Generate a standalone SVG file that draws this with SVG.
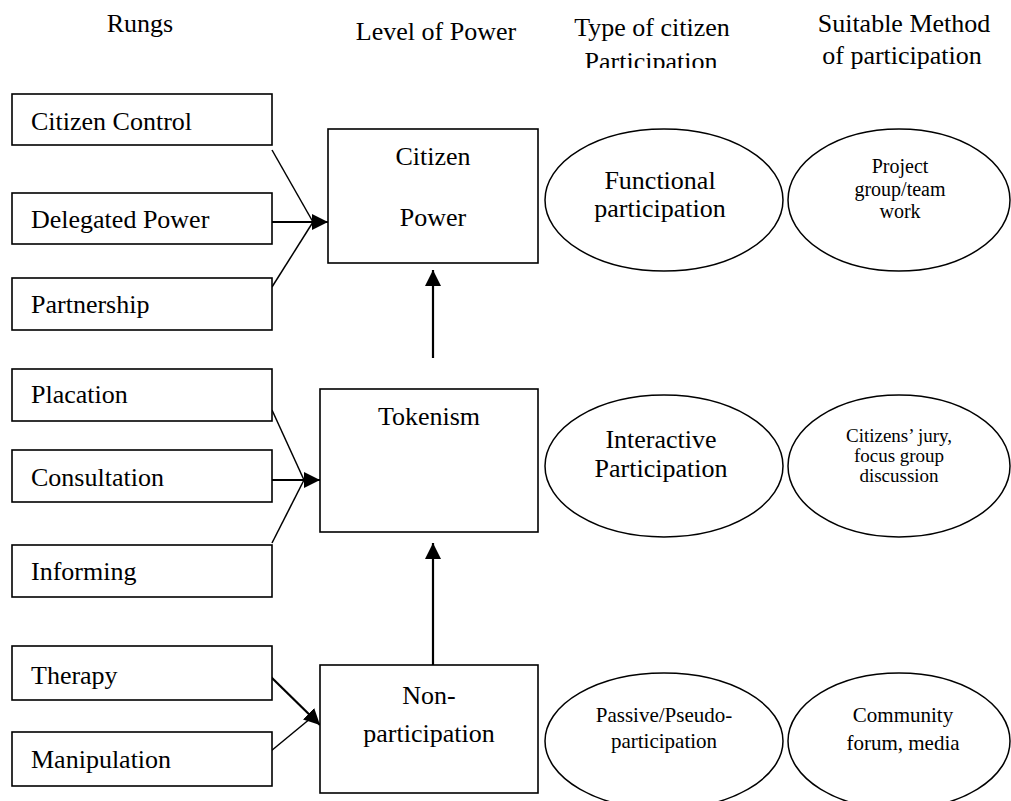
<svg xmlns="http://www.w3.org/2000/svg" width="1011" height="801" viewBox="0 0 1011 801">
<style>
text{font-family:"Liberation Serif","Times New Roman",serif;fill:#000}
.h{font-size:26px;text-anchor:middle}
.b{font-size:26px}
.c{font-size:26px;text-anchor:middle}
.s{font-size:20px;text-anchor:middle}
.box{fill:#fff;stroke:#000;stroke-width:1.6}
.ell{fill:#fff;stroke:#000;stroke-width:1.5}
.ln{stroke:#000;stroke-width:1.5;fill:none}
.ar{stroke:#000;stroke-width:2.2;fill:none;marker-end:url(#ah)}
</style>
<defs>
<marker id="ah" markerUnits="userSpaceOnUse" markerWidth="17" markerHeight="16" refX="16" refY="8" orient="auto" viewBox="0 0 17 16">
<path d="M0,0 L16,8 L0,16 z" fill="#000"/>
</marker>
<clipPath id="hclip"><rect x="540" y="0" width="250" height="68"/></clipPath>
</defs>
<rect width="1011" height="801" fill="#fff"/>
<g id="headers">
<text class="h" x="140" y="32">Rungs</text>
<text class="h" x="436" y="40">Level of Power</text>
<text class="h" x="652" y="36">Type of citizen</text>
<text class="h" x="651" y="70" clip-path="url(#hclip)">Participation</text>
<text class="h" x="904" y="32">Suitable Method</text>
<text class="h" x="902" y="64">of participation</text>
</g>
<g id="connectors">
<line class="ln" x1="272" y1="150" x2="313" y2="222"/>
<line class="ln" x1="272" y1="287" x2="313" y2="222"/>
<line class="ar" x1="272" y1="222" x2="328" y2="222"/>
<line class="ln" x1="272" y1="410" x2="304" y2="480"/>
<line class="ln" x1="272" y1="543" x2="304" y2="480"/>
<line class="ar" x1="272" y1="480" x2="320" y2="480"/>
<line class="ar" x1="271" y1="677" x2="320" y2="725"/>
<line class="ln" x1="271" y1="751" x2="311" y2="718"/>
<line class="ar" x1="433" y1="358" x2="433" y2="270"/>
<line class="ar" x1="433" y1="665" x2="433" y2="543"/>
</g>
<g id="rung-citizen-control"><rect class="box" x="12" y="94" width="260" height="51"/><text class="b" x="31" y="130">Citizen Control</text></g>
<g id="rung-delegated-power"><rect class="box" x="12" y="193" width="260" height="51"/><text class="b" x="31" y="228">Delegated Power</text></g>
<g id="rung-partnership"><rect class="box" x="12" y="278" width="260" height="52"/><text class="b" x="31" y="313">Partnership</text></g>
<g id="rung-placation"><rect class="box" x="12" y="369" width="260" height="52"/><text class="b" x="31" y="403">Placation</text></g>
<g id="rung-consultation"><rect class="box" x="12" y="450" width="260" height="52"/><text class="b" x="31" y="486">Consultation</text></g>
<g id="rung-informing"><rect class="box" x="12" y="545" width="260" height="52"/><text class="b" x="31" y="580">Informing</text></g>
<g id="rung-therapy"><rect class="box" x="12" y="646" width="260" height="54"/><text class="b" x="31" y="684">Therapy</text></g>
<g id="rung-manipulation"><rect class="box" x="12" y="732" width="260" height="54"/><text class="b" x="31" y="768">Manipulation</text></g>
<g id="level-citizen-power"><rect class="box" x="328" y="129" width="210" height="134"/><text class="c" x="433" y="165">Citizen</text><text class="c" x="433" y="226">Power</text></g>
<g id="level-tokenism"><rect class="box" x="320" y="389" width="218" height="143"/><text class="c" x="429" y="425">Tokenism</text></g>
<g id="level-non-participation"><rect class="box" x="320" y="665" width="218" height="128"/><text class="c" x="429" y="704">Non-</text><text class="c" x="429" y="742">participation</text></g>
<g id="type-functional"><ellipse class="ell" cx="664" cy="200" rx="119" ry="71"/><text class="c" x="660" y="189">Functional</text><text class="c" x="660" y="217">participation</text></g>
<g id="type-interactive"><ellipse class="ell" cx="664" cy="466" rx="119" ry="71"/><text class="c" x="661" y="448">Interactive</text><text class="c" x="661" y="477">Participation</text></g>
<g id="type-passive"><ellipse class="ell" cx="664" cy="741" rx="119" ry="68"/><text class="s" x="664" y="722" style="font-size:21px">Passive/Pseudo-</text><text class="s" x="664" y="748" style="font-size:21px">participation</text></g>
<g id="method-project"><ellipse class="ell" cx="899" cy="200" rx="111" ry="71"/><text class="s" x="900" y="173">Project</text><text class="s" x="900" y="196">group/team</text><text class="s" x="900" y="218">work</text></g>
<g id="method-jury"><ellipse class="ell" cx="899" cy="466" rx="111" ry="71"/><text class="s" x="899" y="442" style="font-size:19px">Citizens’ jury,</text><text class="s" x="899" y="462" style="font-size:19px">focus group</text><text class="s" x="899" y="482" style="font-size:19px">discussion</text></g>
<g id="method-community"><ellipse class="ell" cx="899" cy="741" rx="111" ry="68"/><text class="s" x="903" y="722" style="font-size:21px">Community</text><text class="s" x="903" y="750" style="font-size:21px">forum, media</text></g>
</svg>
